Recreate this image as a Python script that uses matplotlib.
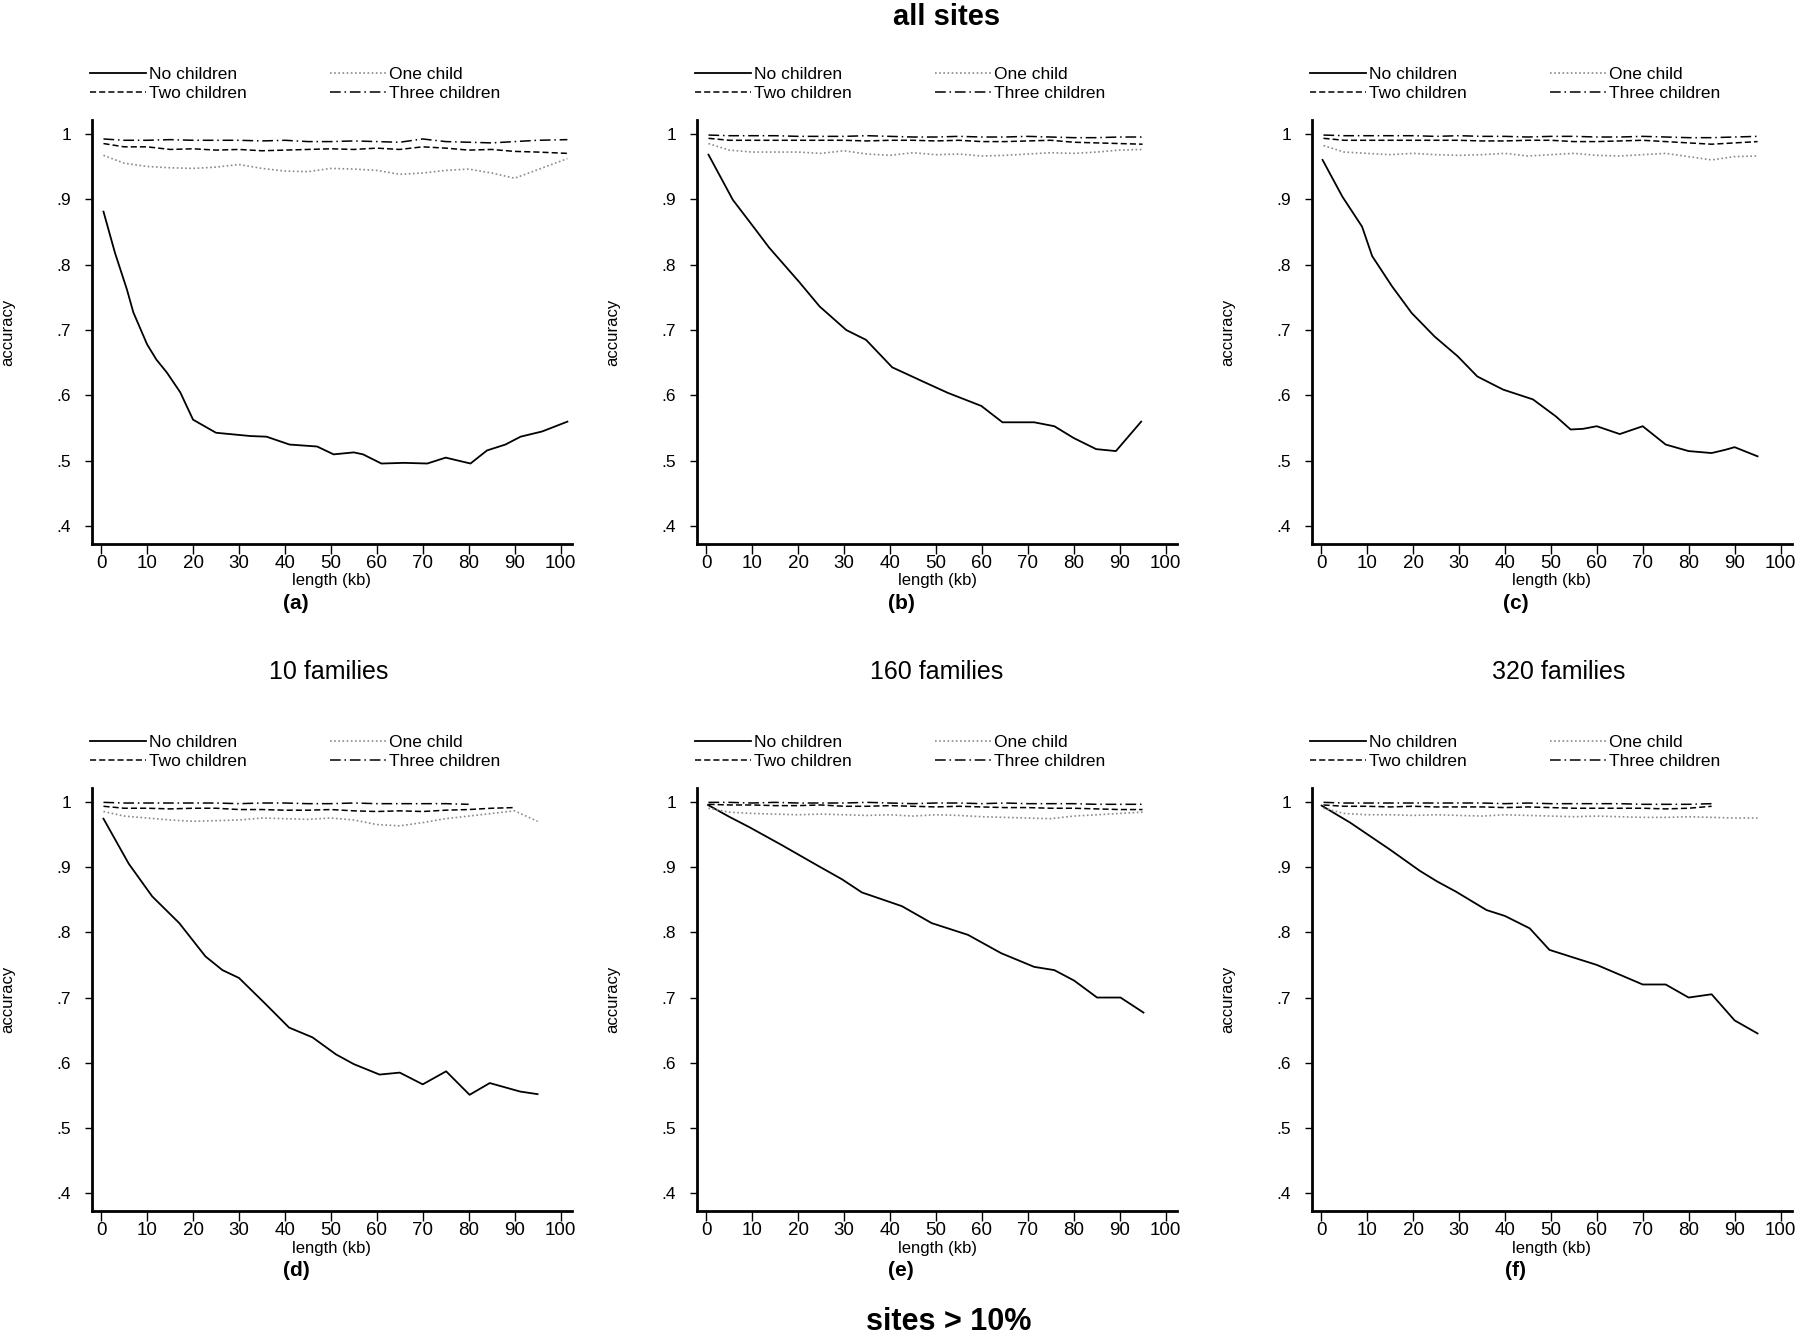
import matplotlib
matplotlib.use("Agg")
import matplotlib.pyplot as plt

plt.rcParams['font.family'] = ['Liberation Sans', 'DejaVu Sans']

# x grid for the three lines near 1.0
x_top = [0.5, 5, 10, 15, 20, 25, 30, 35, 40, 45, 50, 55, 60, 65, 70, 75, 80, 85, 90, 95]
x_top_a = [0.5, 5, 10, 15, 20, 25, 30, 35, 40, 45, 50, 55, 60, 65, 70, 75, 80, 85, 90, 95, 101.5]

# (a) 10 families, all sites
a_x0 = [0.5, 3, 5.6, 7, 10, 12, 14.3, 17.2, 20, 25, 32.5, 36, 41, 47, 50.6, 55, 57, 61, 66, 71,
        75, 78, 80.4, 84, 88, 91.3, 96, 101.5]
a_none = [0.881, 0.818, 0.762, 0.727, 0.678, 0.655, 0.635, 0.605, 0.563, 0.543, 0.538, 0.537,
          0.525, 0.522, 0.51, 0.513, 0.51, 0.496, 0.497, 0.496, 0.505, 0.5, 0.496, 0.516, 0.525,
          0.537, 0.545, 0.56]
a_one = [0.967, 0.955, 0.95, 0.948, 0.947, 0.949, 0.953, 0.947, 0.943, 0.942, 0.947, 0.946,
         0.944, 0.938, 0.94, 0.944, 0.946, 0.94, 0.932, 0.945, 0.962]
a_two = [0.985, 0.98, 0.98, 0.976, 0.977, 0.975, 0.976, 0.974, 0.975, 0.976, 0.977, 0.976,
         0.978, 0.976, 0.98, 0.978, 0.975, 0.976, 0.973, 0.972, 0.97]
a_three = [0.992, 0.99, 0.99, 0.991, 0.99, 0.99, 0.99, 0.989, 0.99, 0.988, 0.988, 0.989,
           0.988, 0.987, 0.992, 0.988, 0.987, 0.986, 0.988, 0.99, 0.991]

# (b) 160 families, all sites
b_x0 = [0.5, 5.8, 10.8, 13.7, 20.3, 24.7, 30.5, 34.8, 40.5, 47.6, 52.6, 59.9, 64.5, 71.4,
        75.8, 80, 84.9, 89.2, 94.7]
b_none = [0.968, 0.899, 0.853, 0.826, 0.773, 0.736, 0.70, 0.685, 0.643, 0.62, 0.604, 0.584,
          0.559, 0.559, 0.553, 0.535, 0.518, 0.515, 0.56]
b_one = [0.985, 0.975, 0.972, 0.972, 0.972, 0.97, 0.974, 0.969, 0.967, 0.971, 0.968, 0.969,
         0.966, 0.967, 0.969, 0.971, 0.97, 0.972, 0.975, 0.976]
b_two = [0.993, 0.99, 0.99, 0.99, 0.99, 0.99, 0.99, 0.989, 0.99, 0.99, 0.989, 0.99, 0.988,
         0.988, 0.989, 0.99, 0.987, 0.986, 0.985, 0.984]
b_three = [0.998, 0.997, 0.997, 0.997, 0.996, 0.996, 0.996, 0.997, 0.996, 0.995, 0.995, 0.996,
           0.995, 0.995, 0.996, 0.995, 0.994, 0.994, 0.995, 0.995]

# (c) 320 families, all sites
c_x0 = [0.3, 4.6, 8.9, 11.1, 15.4, 19.7, 24.7, 29.7, 34, 39.6, 46.1, 51.1, 54.3, 57, 60, 65,
        70, 75, 80, 85, 88, 90, 95]
c_none = [0.96, 0.904, 0.858, 0.813, 0.767, 0.726, 0.69, 0.66, 0.629, 0.609, 0.594, 0.568,
          0.548, 0.549, 0.553, 0.541, 0.553, 0.525, 0.515, 0.512, 0.517, 0.521, 0.507]
c_one = [0.982, 0.972, 0.97, 0.968, 0.97, 0.968, 0.967, 0.968, 0.97, 0.966, 0.968, 0.97,
         0.967, 0.966, 0.968, 0.97, 0.965, 0.96, 0.965, 0.966]
c_two = [0.993, 0.99, 0.99, 0.99, 0.99, 0.99, 0.99, 0.989, 0.989, 0.99, 0.99, 0.988, 0.988,
         0.989, 0.99, 0.988, 0.986, 0.984, 0.986, 0.988]
c_three = [0.998, 0.997, 0.997, 0.997, 0.997, 0.996, 0.997, 0.996, 0.996, 0.995, 0.996, 0.996,
           0.995, 0.995, 0.996, 0.995, 0.994, 0.994, 0.995, 0.996]

# (d) 10 families, sites > 10%
d_x0 = [0.5, 6, 11.1, 17, 22.7, 26.4, 30, 35.8, 40.9, 46, 51.1, 55, 60.6, 65, 70, 75.1, 80.2,
        84.6, 91.2, 95]
d_none = [0.974, 0.905, 0.855, 0.814, 0.763, 0.742, 0.73, 0.69, 0.654, 0.639, 0.613, 0.598,
          0.582, 0.585, 0.567, 0.587, 0.551, 0.569, 0.556, 0.552]
d_one = [0.985, 0.978, 0.975, 0.972, 0.97, 0.971, 0.972, 0.975, 0.974, 0.973, 0.975, 0.972,
         0.965, 0.963, 0.968, 0.974, 0.978, 0.982, 0.986, 0.97]
d_two = [0.993, 0.99, 0.99, 0.989, 0.99, 0.99, 0.988, 0.988, 0.987, 0.987, 0.988, 0.986,
         0.985, 0.986, 0.985, 0.987, 0.988, 0.99, 0.991]
d_three = [0.999, 0.998, 0.998, 0.998, 0.998, 0.998, 0.997, 0.998, 0.998, 0.997, 0.997, 0.998,
           0.997, 0.997, 0.997, 0.997, 0.996]

# (e) 160 families, sites > 10%
e_x0 = [0.4, 5, 9.4, 16.6, 23.8, 29.6, 33.9, 42.6, 49.1, 57, 64.2, 71.4, 75.8, 80.1, 85.1,
        90.2, 95.2]
e_none = [0.995, 0.977, 0.961, 0.933, 0.904, 0.881, 0.861, 0.84, 0.814, 0.796, 0.768, 0.747,
          0.742, 0.726, 0.70, 0.70, 0.677]
e_one = [0.99, 0.984, 0.982, 0.981, 0.98, 0.981, 0.98, 0.979, 0.98, 0.978, 0.98, 0.979, 0.977,
         0.976, 0.975, 0.974, 0.978, 0.98, 0.982, 0.984]
e_two = [0.996, 0.995, 0.995, 0.994, 0.994, 0.995, 0.993, 0.993, 0.994, 0.993, 0.992, 0.993,
         0.992, 0.991, 0.991, 0.99, 0.99, 0.989, 0.988, 0.988]
e_three = [0.999, 0.999, 0.998, 0.999, 0.998, 0.998, 0.998, 0.999, 0.998, 0.997, 0.998, 0.998,
           0.997, 0.998, 0.997, 0.997, 0.997, 0.996, 0.996, 0.996]

# (f) 320 families, sites > 10%
f_x0 = [0.1, 6.3, 14.9, 21.5, 25.2, 29.4, 36, 40, 45.4, 49.7, 55.5, 60, 65, 70, 75, 80, 85,
        90, 95]
f_none = [0.994, 0.968, 0.927, 0.894, 0.878, 0.862, 0.834, 0.825, 0.806, 0.773, 0.76, 0.75,
          0.735, 0.72, 0.72, 0.70, 0.705, 0.665, 0.645]
f_one = [0.99, 0.982, 0.98, 0.98, 0.979, 0.98, 0.979, 0.978, 0.98, 0.979, 0.978, 0.977, 0.978,
         0.977, 0.976, 0.976, 0.977, 0.976, 0.975, 0.975]
f_two = [0.995, 0.993, 0.993, 0.992, 0.993, 0.992, 0.992, 0.992, 0.991, 0.992, 0.991, 0.99,
         0.99, 0.99, 0.99, 0.989, 0.99, 0.993]
f_three = [0.999, 0.998, 0.998, 0.998, 0.998, 0.998, 0.998, 0.998, 0.997, 0.998, 0.997, 0.997,
           0.997, 0.997, 0.996, 0.996, 0.996, 0.997]

panel_letters = ['(a)', '(b)', '(c)', '(d)', '(e)', '(f)']
col_titles = ['10 families', '160 families', '320 families']
x_ticks = [0, 10, 20, 30, 40, 50, 60, 70, 80, 90, 100]
y_ticks = [0.4, 0.5, 0.6, 0.7, 0.8, 0.9, 1.0]
y_ticklabels = ['.4', '.5', '.6', '.7', '.8', '.9', '1']

panels = [
    (a_x0, a_none, x_top_a, a_one, a_two, a_three),
    (b_x0, b_none, x_top, b_one, b_two, b_three),
    (c_x0, c_none, x_top, c_one, c_two, c_three),
    (d_x0, d_none, x_top, d_one, d_two, d_three),
    (e_x0, e_none, x_top, e_one, e_two, e_three),
    (f_x0, f_none, x_top, f_one, f_two, f_three),
]

W, H = 1800, 1336
fig = plt.figure(figsize=(W / 100, H / 100), dpi=100)

lefts = [92, 697, 1312]
rows = [(120, 544), (788, 1211)]

for i, (x0, none, xt, one, two, three) in enumerate(panels):
    r, c = divmod(i, 3)
    top, bot = rows[r]
    ax = fig.add_axes([lefts[c] / W, 1 - bot / H, 480 / W, (bot - top) / H])

    l_none, = ax.plot(x0, none, color='black', lw=1.3, ls='-')
    l_one, = ax.plot(xt[:len(one)], one, color='#8a8a8a', lw=1.2, ls=(0, (1, 1.5)))
    l_two, = ax.plot(xt[:len(two)], two, color='black', lw=1.1, ls=(0, (4, 2)))
    l_three, = ax.plot(xt[:len(three)], three, color='black', lw=1.1, ls=(0, (7, 2.5, 1, 2.5)))

    ax.set_xlim(-2, 102.5)
    ax.set_ylim(0.373, 1.021)
    ax.set_xticks(x_ticks)
    ax.set_xticklabels([str(t) for t in x_ticks], family=['Liberation Sans Narrow', 'Liberation Sans'],
                       fontsize=13.5)
    ax.set_yticks(y_ticks)
    ax.set_yticklabels(y_ticklabels, fontsize=12.5)
    ax.tick_params(axis='x', length=7, width=1, pad=1)
    ax.tick_params(axis='y', length=5, width=1, pad=10)
    for s in ['top', 'right']:
        ax.spines[s].set_visible(False)
    for s in ['left', 'bottom']:
        ax.spines[s].set_linewidth(2)

    ax.set_xlabel('length (kb)', fontsize=12, labelpad=1)
    ax.set_ylabel('accuracy', fontsize=12)
    ax.yaxis.set_label_coords(-0.16, 0.5)
    ax.text(0.425, -0.14, panel_letters[i], transform=ax.transAxes, fontsize=15,
            fontweight='bold', ha='center', va='center')

    ax.legend([l_none, l_two, l_one, l_three],
              ['No children', 'Two children', 'One child', 'Three children'],
              ncol=2, loc='lower left', bbox_to_anchor=(-0.004, 1.045), frameon=False,
              borderpad=0, borderaxespad=0, fontsize=12.5, handlelength=3.2,
              handletextpad=0.2, labelspacing=0.22, columnspacing=4.8)

fig.text(947 / W, 1 - 17 / H, 'all sites', fontsize=21, fontweight='bold', ha='center', va='center')
for c, t in enumerate(col_titles):
    fig.text([329, 937, 1559][c] / W, 1 - 672 / H, t, fontsize=18, ha='center', va='center')
fig.text(949 / W, 1 - 1322 / H, 'sites > 10%', fontsize=22, fontweight='bold', ha='center',
         va='center')

fig.savefig('out.png', dpi=100)
